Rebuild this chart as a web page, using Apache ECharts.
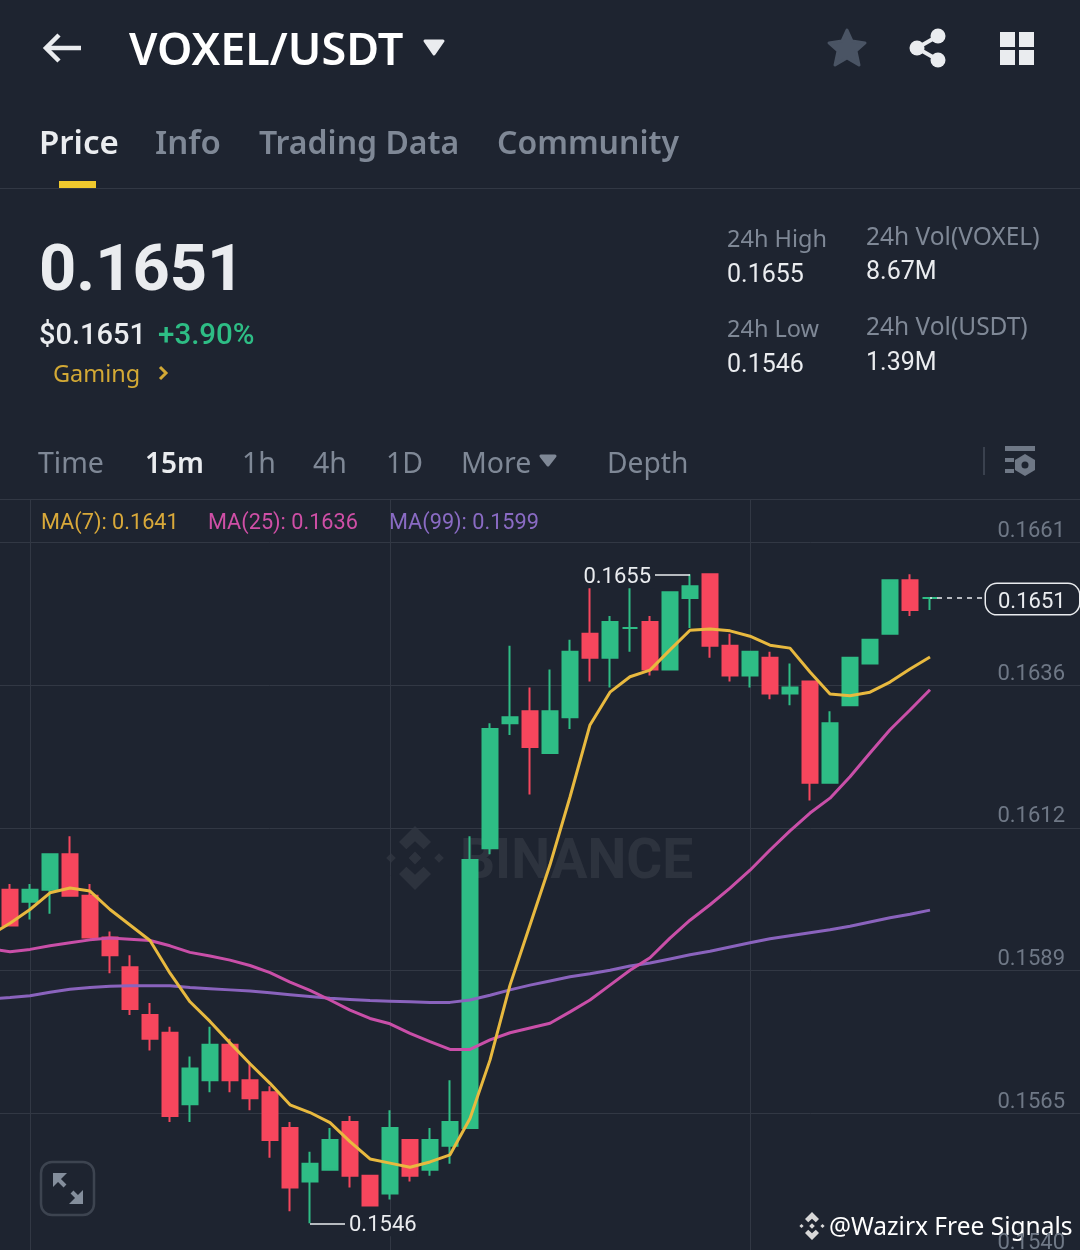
<!DOCTYPE html>
<html>
<head>
<meta charset="utf-8">
<title>VOXEL/USDT</title>
<script src="https://cdn.jsdelivr.net/npm/echarts@6/dist/echarts.min.js"></script>
<style>
  html, body { margin: 0; padding: 0; background: #1e2430; }
  #chart { width: 1080px; height: 1250px; }
</style>
</head>
<body>
<div id="chart"></div>
<script>
var opens  = [0.1602,0.1600,0.1602,0.1608,0.1601,0.1594,0.1589,0.1581,0.1578,0.1566,0.1570,0.1576,0.1570,0.1568,0.1562,0.1553,0.1555,0.1563,0.1554,0.1551,0.1560,0.1555,0.1559,0.1562,0.1609,0.1630,0.1632,0.1625,0.1631,0.1645,0.1641,0.1646,0.1647,0.1639,0.1651,0.1655,0.1643,0.1638,0.1641,0.1635,0.1637,0.1620,0.1633,0.1640,0.1645,0.1654,0.1651];
var closes = [0.1596,0.1602,0.1608,0.1601,0.1594,0.1591,0.1582,0.1577,0.1564,0.1572,0.1576,0.1570,0.1567,0.1560,0.1552,0.1556,0.1560,0.1554,0.1549,0.1562,0.1554,0.1560,0.1563,0.1607,0.1629,0.1631,0.1626,0.1632,0.1642,0.1641,0.1647,0.1646,0.1639,0.1652,0.1653,0.1643,0.1638,0.1642,0.1635,0.1636,0.1620,0.1630,0.1641,0.1644,0.1654,0.1649,0.1651];
var lows   = [0.1596,0.1597,0.1598,0.1601,0.1594,0.1588,0.1581,0.1575,0.1563,0.1563,0.1568,0.1568,0.1565,0.1557,0.1548,0.1546,0.1555,0.1552,0.1549,0.1550,0.1553,0.1554,0.1556,0.1562,0.1608,0.1628,0.1618,0.1625,0.1629,0.1637,0.1636,0.1642,0.1638,0.1639,0.1646,0.1641,0.1637,0.1636,0.1634,0.1633,0.1617,0.1620,0.1633,0.1640,0.1645,0.1648,0.1649];
var highs  = [0.1603,0.1603,0.1608,0.1611,0.1603,0.1595,0.1591,0.1583,0.1579,0.1574,0.1579,0.1577,0.1573,0.1569,0.1563,0.1558,0.1562,0.1564,0.1554,0.1565,0.1560,0.1562,0.1570,0.1611,0.1630,0.1643,0.1636,0.1639,0.1644,0.1653,0.1648,0.1653,0.1648,0.1652,0.1655,0.1655,0.1645,0.1642,0.1642,0.1640,0.1637,0.1632,0.1641,0.1644,0.1654,0.1655,0.1651];

// moving averages, first value belongs to the candle cut off at the left edge
var ma7  = [0.15944,0.15964,0.15987,0.16015,0.16023,0.16018,0.15987,0.15961,0.15935,0.15880,0.15832,0.15799,0.15763,0.15728,0.15695,0.15659,0.15646,0.15629,0.15597,0.15568,0.15561,0.15554,0.15563,0.15575,0.15636,0.15734,0.15860,0.15961,0.16062,0.16176,0.16297,0.16352,0.16378,0.16389,0.16423,0.16456,0.16458,0.16455,0.16446,0.16431,0.16426,0.16386,0.16349,0.16346,0.16352,0.16369,0.16391,0.16411];
var ma25 = [0.15921,0.15916,0.15920,0.15926,0.15931,0.15936,0.15939,0.15937,0.15935,0.15926,0.15915,0.15909,0.15902,0.15893,0.15881,0.15865,0.15851,0.15835,0.15818,0.15804,0.15795,0.15779,0.15765,0.15752,0.15752,0.15768,0.15780,0.15788,0.15796,0.15815,0.15835,0.15860,0.15885,0.15906,0.15939,0.15969,0.15995,0.16023,0.16053,0.16087,0.16119,0.16149,0.16174,0.16210,0.16250,0.16289,0.16322,0.16356];
var ma99 = [0.15837,0.15839,0.15842,0.15848,0.15853,0.15856,0.15858,0.15859,0.15859,0.15859,0.15856,0.15854,0.15852,0.15850,0.15847,0.15844,0.15841,0.15838,0.15836,0.15834,0.15833,0.15832,0.15831,0.15831,0.15835,0.15843,0.15852,0.15860,0.15867,0.15874,0.15879,0.15885,0.15892,0.15897,0.15904,0.15911,0.15917,0.15924,0.15931,0.15938,0.15943,0.15948,0.15953,0.15959,0.15966,0.15973,0.15979,0.15986];

var gridValues = [0.16603,0.16364,0.16124,0.15885,0.15645,0.15407];
var gridLabels = ['0.1661','0.1636','0.1612','0.1589','0.1565','0.1540'];

var BG = '#1e2430', GREEN = '#2ebd85', RED = '#f6465d', WHITE = '#eaecef', GREY = '#7f8896', LINE = '#323844';
var WORD = '"Noto Sans", sans-serif', NUM = 'Roboto, sans-serif';

// one slot per candle plus the hidden one at x=-10 and the empty slots on the right
var categories = [];
for (var c = 0; c < 56; c++) categories.push('c' + c);

var candles = ['-'];
opens.forEach(function (o, i) {
  candles.push([o, closes[i], lows[i], highs[i]]);
});

var highPrice = Math.max.apply(null, highs);
var lowPrice = Math.min.apply(null, lows);
var highIdx = highs.indexOf(highPrice) + 1;
var lowIdx = lows.indexOf(lowPrice) + 1;
var lastPrice = closes[closes.length - 1];

function txt(x, y, text, size, color, weight, family) {
  return {
    type: 'text', x: x, y: y, silent: true,
    style: {
      text: text, fill: color, verticalAlign: 'middle',
      font: (weight || 'normal') + ' ' + size + 'px ' + (family || WORD)
    }
  };
}
function ln(x1, y1, x2, y2, color, w) {
  return { type: 'line', silent: true, shape: { x1: x1, y1: y1, x2: x2, y2: y2 }, style: { stroke: color, lineWidth: w || 1 } };
}
function tri(x1, x2, y1, y2, color) {
  return {
    type: 'polygon', silent: true,
    shape: { points: [[x1, y1], [x2, y1], [(x1 + x2) / 2, y2]] },
    style: { fill: color, stroke: color, lineWidth: 3, lineJoin: 'round' }
  };
}
function box(x, y, w, h, color) {
  return { type: 'rect', silent: true, shape: { x: x, y: y, width: w, height: h }, style: { fill: color } };
}
function logo(cx, cy, s, color) {
  // binance diamond mark
  var part = [
    [[0, -1], [0.5, -0.5], [0.27, -0.27], [0, -0.52], [-0.27, -0.27], [-0.5, -0.5]],
    [[0, 1], [0.5, 0.5], [0.27, 0.27], [0, 0.52], [-0.27, 0.27], [-0.5, 0.5]],
    [[0, -0.2], [0.2, 0], [0, 0.2], [-0.2, 0]],
    [[-0.75, -0.15], [-0.6, 0], [-0.75, 0.15], [-0.9, 0]],
    [[0.75, -0.15], [0.9, 0], [0.75, 0.15], [0.6, 0]]
  ];
  return part.map(function (p) {
    return {
      type: 'polygon', silent: true,
      shape: { points: p.map(function (q) { return [cx + q[0] * s, cy + q[1] * s]; }) },
      style: { fill: color }
    };
  });
}

var ui = [
  // top bar
  { type: 'polyline', silent: true, shape: { points: [[59, 35], [46, 48], [59, 61]] }, style: { stroke: WHITE, lineWidth: 4.5, fill: null } },
  ln(47, 48, 81, 48, WHITE, 4.5),
  txt(129, 52, 'VOXEL/USDT', 45, '#ffffff', 600),
  tri(425, 443, 41, 54, WHITE),
  {
    type: 'polygon', silent: true,
    shape: { points: [[847, 30], [852, 41], [865, 43], [856, 51], [859, 65], [847, 58], [835, 65], [838, 51], [829, 43], [842, 41]] },
    style: { fill: '#4a5464', stroke: '#4a5464', lineWidth: 3, lineJoin: 'round' }
  },
  ln(917, 48, 938, 36, WHITE, 4),
  ln(917, 48, 938, 60, WHITE, 4),
  { type: 'circle', silent: true, shape: { cx: 917, cy: 48, r: 7.5 }, style: { fill: WHITE } },
  { type: 'circle', silent: true, shape: { cx: 938, cy: 36, r: 7.5 }, style: { fill: WHITE } },
  { type: 'circle', silent: true, shape: { cx: 938, cy: 60, r: 7.5 }, style: { fill: WHITE } },
  box(1000, 32, 15, 15, WHITE), box(1019, 32, 15, 15, WHITE),
  box(1000, 50, 15, 15, WHITE), box(1019, 50, 15, 15, WHITE),

  // tabs
  txt(39, 145, 'Price', 33, WHITE, 600),
  txt(155, 145, 'Info', 33, GREY, 600),
  txt(259, 145, 'Trading Data', 32, GREY, 600),
  txt(497, 145, 'Community', 32, GREY, 600),
  box(59, 181, 37, 7, '#f0c92d'),
  ln(0, 188.5, 1080, 188.5, LINE),

  // price block
  txt(39, 274, '0.1651', 65, WHITE, 700, NUM),
  txt(39, 337, '$0.1651', 29, WHITE, 500, NUM),
  txt(158, 337, '+3.90%', 29.5, GREEN, 500, NUM),
  txt(53, 375, 'Gaming', 23.5, '#d3a935'),
  { type: 'polyline', silent: true, shape: { points: [[160, 367], [166, 373], [160, 379]] }, style: { stroke: '#d3a935', lineWidth: 3, fill: null } },

  // 24h stats
  txt(727, 240, '24h High', 23.5, GREY),
  txt(727, 276, '0.1655', 25, WHITE, 'normal', NUM),
  txt(727, 330, '24h Low', 23.5, GREY),
  txt(727, 366, '0.1546', 25, WHITE, 'normal', NUM),
  txt(866, 238, '24h Vol(VOXEL)', 24.5, GREY),
  txt(866, 273, '8.67M', 25, WHITE, 'normal', NUM),
  txt(866, 328, '24h Vol(USDT)', 24.5, GREY),
  txt(866, 364, '1.39M', 25, WHITE, 'normal', NUM),

  // interval bar
  txt(38, 465, 'Time', 28.5, GREY),
  txt(145, 465, '15m', 28, WHITE, 600),
  txt(242, 465, '1h', 28.5, GREY),
  txt(313, 465, '4h', 28.5, GREY),
  txt(386, 465, '1D', 28.5, GREY),
  txt(461, 465, 'More', 28.5, GREY),
  tri(541, 555, 456, 465, GREY),
  txt(607, 465, 'Depth', 28.2, GREY),
  ln(984, 447, 984, 475, '#3a414e', 2),
  box(1005, 446, 30, 5, '#6f7886'), box(1005, 458, 9, 4, '#6f7886'), box(1005, 469, 9, 4, '#6f7886'),
  {
    type: 'polygon', silent: true,
    shape: { points: [[1025, 454], [1035, 460], [1035, 470], [1025, 476], [1015, 470], [1015, 460]] },
    style: { fill: '#6f7886' }
  },
  { type: 'circle', silent: true, shape: { cx: 1025, cy: 465, r: 3.5 }, style: { fill: BG } },
  ln(0, 499.5, 1080, 499.5, LINE),

  // moving average legend
  txt(41, 524, 'MA(7): 0.1641', 21.7, '#d9a93a', 'normal', NUM),
  txt(208, 524, 'MA(25): 0.1636', 21.7, '#cf4fa6', 'normal', NUM),
  txt(389, 524, 'MA(99): 0.1599', 21.7, '#8a6bc4', 'normal', NUM),

  // binance watermark behind the candles
  txt(460, 864, 'BINANCE', 55, 'rgba(255,255,255,0.07)', 700, NUM),

  // expand button
  {
    type: 'rect', silent: true,
    shape: { x: 41, y: 1162, width: 53, height: 53, r: 11 },
    style: { fill: null, stroke: '#3d4450', lineWidth: 2.5 }
  },
  ln(58, 1179, 65, 1186, '#848e9c', 4),
  ln(72, 1192, 78, 1198, '#848e9c', 4),
  {
    type: 'polygon', silent: true,
    shape: { points: [[53, 1173], [67, 1173], [53, 1187]] },
    style: { fill: '#848e9c' }
  },
  {
    type: 'polygon', silent: true,
    shape: { points: [[83, 1204], [69, 1204], [83, 1190]] },
    style: { fill: '#848e9c' }
  },

  // feed credit
  txt(829, 1228, '@Wazirx Free Signals', 24.5, '#ffffff')
];
ui = ui.concat(logo(415, 858, 32, 'rgba(255,255,255,0.07)'));
ui = ui.concat(logo(812, 1226, 14, '#d8d8d8'));

var chart = echarts.init(document.getElementById('chart'));

chart.setOption({
  backgroundColor: BG,
  animation: false,
  graphic: { elements: ui },
  grid: { left: -10, width: 1100, top: 500, height: 760, outerBoundsMode: 'none' },
  xAxis: {
    type: 'category',
    data: categories,
    boundaryGap: false,
    axisLine: { show: false },
    axisTick: { show: false },
    axisLabel: { show: false },
    splitLine: {
      show: true,
      interval: function (idx) { return idx >= 2 && (idx - 2) % 18 === 0; },
      lineStyle: { color: LINE, width: 1 }
    }
  },
  yAxis: {
    type: 'value',
    position: 'right',
    min: 0.153983,
    max: 0.166748,
    axisLine: { show: false },
    axisTick: { show: false, customValues: gridValues },
    splitLine: { show: true, lineStyle: { color: LINE, width: 1 } },
    axisLabel: {
      inside: true,
      margin: 25,
      customValues: gridValues,
      color: '#6f7886',
      fontFamily: NUM,
      fontSize: 22,
      verticalAlign: 'bottom',
      formatter: function (v) { return gridLabels[gridValues.indexOf(v)]; }
    }
  },
  series: [
    {
      name: 'VOXEL/USDT',
      type: 'candlestick',
      data: candles,
      barWidth: 16,
      clip: false,
      itemStyle: {
        color: GREEN, color0: RED,
        borderColor: GREEN, borderColor0: RED, borderColorDoji: GREEN,
        borderWidth: 2
      },
      markLine: {
        silent: true,
        symbol: 'none',
        animation: false,
        data: [
          [
            {
              coord: [highIdx, highPrice],
              lineStyle: { color: WHITE, width: 1.5, type: 'solid' },
              label: {
                position: 'end', formatter: highPrice.toFixed(4), color: WHITE, fontFamily: NUM, fontSize: 22,
                distance: 0, align: 'right', offset: [5, 3], backgroundColor: BG, padding: [0, 4, 0, 0]
              }
            },
            { coord: [highIdx - 2, highPrice] }
          ],
          [
            {
              coord: [lowIdx, lowPrice],
              lineStyle: { color: WHITE, width: 1.5, type: 'solid' },
              label: {
                position: 'end', formatter: lowPrice.toFixed(4), color: WHITE, fontFamily: NUM, fontSize: 22,
                distance: 0, align: 'left', offset: [-5, 2], backgroundColor: BG, padding: [0, 0, 0, 4]
              }
            },
            { coord: [lowIdx + 2, lowPrice] }
          ],
          [
            {
              coord: [47, lastPrice],
              lineStyle: { color: WHITE, width: 1.5, type: [5, 5], dashOffset: 3 },
              label: {
                position: 'end', formatter: '{a|' + lastPrice.toFixed(4) + '}', distance: 0, align: 'left',
                offset: [-4, 1], backgroundColor: BG,
                borderColor: WHITE, borderWidth: 1.5, borderRadius: 11, padding: [4, 12, 4, 12], width: 69,
                rich: { a: { color: WHITE, fontFamily: NUM, fontSize: 22, lineHeight: 22, padding: [7, 0, 0, 0] } }
              }
            },
            { coord: [50, lastPrice] }
          ]
        ]
      }
    },
    {
      name: 'MA(99)', type: 'line', data: ma99, symbol: 'none', clip: false,
      lineStyle: { color: '#8a63bd', width: 3 }, z: 3
    },
    {
      name: 'MA(25)', type: 'line', data: ma25, symbol: 'none', clip: false,
      lineStyle: { color: '#c94fa8', width: 3 }, z: 4
    },
    {
      name: 'MA(7)', type: 'line', data: ma7, symbol: 'none', clip: false,
      lineStyle: { color: '#e8b93f', width: 3 }, z: 5
    }
  ]
});
</script>
</body>
</html>
